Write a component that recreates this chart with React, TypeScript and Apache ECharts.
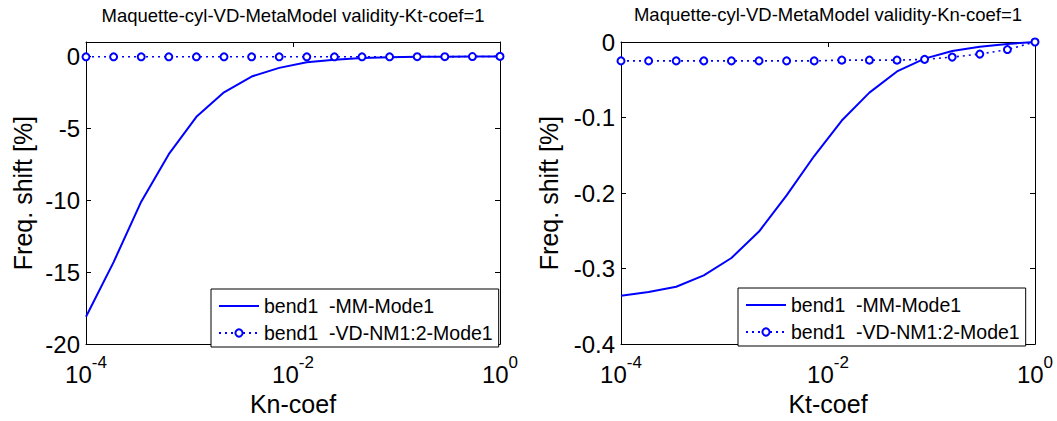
import React, { useEffect, useRef } from "react";
import * as echarts from "echarts";

// Coefficient values (shared by both plots)
const coefValues = [1e-4, 1.848e-4, 3.415e-4, 6.31e-4, 1.166e-3, 2.154e-3, 3.981e-3, 7.356e-3, 1.359e-2, 2.512e-2, 4.642e-2, 8.577e-2, 0.1585, 0.2929, 0.5412, 1];

// Left plot (Kt-coef = 1, varying Kn)
const knMM = [-18.1, -14.3, -10.1, -6.8, -4.2, -2.5, -1.4, -0.8, -0.41, -0.23, -0.11, -0.06, -0.03, -0.02, -0.01, 0];
const knVD = [-0.03, -0.03, -0.03, -0.03, -0.03, -0.03, -0.03, -0.03, -0.03, -0.03, -0.03, -0.03, -0.02, -0.02, -0.01, 0];

// Right plot (Kn-coef = 1, varying Kt)
const ktMM = [-0.336, -0.331, -0.324, -0.309, -0.286, -0.251, -0.203, -0.151, -0.104, -0.067, -0.039, -0.022, -0.012, -0.0063, -0.0025, 0];
const ktVD = [-0.025, -0.025, -0.025, -0.025, -0.025, -0.025, -0.025, -0.025, -0.024, -0.024, -0.024, -0.023, -0.02, -0.016, -0.01, 0];

const xTicks = [1e-4, 1e-2, 1];
const knYTicks = [-20, -15, -10, -5, 0];
const ktYTicks = [-0.4, -0.3, -0.2, -0.1, 0];

const seriesNames = ["bend1  -MM-Mode1", "bend1  -VD-NM1:2-Mode1"];
const titles = ["Maquette-cyl-VD-MetaModel validity-Kt-coef=1", "Maquette-cyl-VD-MetaModel validity-Kn-coef=1"];
const xNames = ["Kn-coef", "Kt-coef"];
const yName = "Freq. shift [%]";

const FONT = "'Liberation Sans', Arial, Helvetica, sans-serif";
const BLUE = "#0000ff";
const BLACK = "#000000";

function powLabel(v: number) {
  const e = v > 0 ? Math.round(Math.log10(v)) : Math.round(v);
  return `{b|10}{s|${e}}`;
}

function buildOption() {
  const grids = [
    { left: 86, top: 42, width: 414, height: 308 },
    { left: 621, top: 42, width: 414, height: 308 },
  ];
  const yRanges = [
    { min: -20, max: 1, ticks: knYTicks, gap: 51 },
    { min: -0.4, max: 0, ticks: ktYTicks, gap: 60 },
  ];
  const xAxis: any[] = [];
  const yAxis: any[] = [];
  [0, 1].forEach((g) => {
    const axisLine = { show: true, onZero: false, lineStyle: { color: BLACK, width: 1 } };
    xAxis.push({
      type: "log",
      logBase: 10,
      gridIndex: g,
      min: 1e-4,
      max: 1,
      position: "bottom",
      axisLine,
      axisTick: { show: true, inside: true, length: 5, customValues: xTicks, lineStyle: { color: BLACK } },
      minorTick: { show: false },
      splitLine: { show: false },
      axisLabel: {
        customValues: xTicks,
        formatter: powLabel,
        margin: 10,
        color: BLACK,
        fontFamily: FONT,
        rich: {
          b: { fontSize: 24, lineHeight: 32, verticalAlign: "bottom", fontFamily: FONT, color: BLACK },
          s: { fontSize: 17, lineHeight: 17, verticalAlign: "top", fontFamily: FONT, color: BLACK },
        },
      },
      name: xNames[g],
      nameLocation: "middle",
      nameGap: 39,
      nameTextStyle: { fontSize: 25, color: BLACK, fontFamily: FONT },
    });
    xAxis.push({
      type: "log",
      logBase: 10,
      gridIndex: g,
      min: 1e-4,
      max: 1,
      position: "top",
      axisLine,
      axisTick: { show: true, inside: true, length: 5, customValues: xTicks, lineStyle: { color: BLACK } },
      minorTick: { show: false },
      splitLine: { show: false },
      axisLabel: { show: false },
    });
    const r = yRanges[g];
    yAxis.push({
      type: "value",
      gridIndex: g,
      min: r.min,
      max: r.max,
      position: "left",
      axisLine,
      axisTick: { show: true, inside: true, length: 5, customValues: r.ticks, lineStyle: { color: BLACK } },
      splitLine: { show: false },
      axisLabel: { customValues: r.ticks, fontSize: 24, color: BLACK, fontFamily: FONT, margin: 6 },
      name: yName,
      nameLocation: "middle",
      nameGap: r.gap,
      nameTextStyle: { fontSize: 25, color: BLACK, fontFamily: FONT },
    });
    yAxis.push({
      type: "value",
      gridIndex: g,
      min: r.min,
      max: r.max,
      position: "right",
      axisLine,
      axisTick: { show: true, inside: true, length: 5, customValues: r.ticks, lineStyle: { color: BLACK } },
      splitLine: { show: false },
      axisLabel: { show: false },
    });
  });

  const dataSets = [
    [knMM, knVD],
    [ktMM, ktVD],
  ];
  const series: any[] = [];
  [0, 1].forEach((g) => {
    series.push({
      type: "line",
      name: seriesNames[0],
      xAxisIndex: g * 2,
      yAxisIndex: g * 2,
      data: coefValues.map((x, i) => [x, dataSets[g][0][i]]),
      symbol: "none",
      lineStyle: { color: BLUE, width: 2 },
      itemStyle: { color: BLUE },
      z: 2,
    });
    series.push({
      type: "line",
      name: seriesNames[1],
      xAxisIndex: g * 2,
      yAxisIndex: g * 2,
      data: coefValues.map((x, i) => [x, dataSets[g][1][i]]),
      symbol: "emptyCircle",
      symbolSize: 7,
      lineStyle: { color: BLUE, width: 1.6, type: [2, 4] },
      itemStyle: { color: BLUE, borderColor: BLUE, borderWidth: 1.6 },
      z: 3,
    });
  });

  const legendBase = {
    orient: "vertical",
    data: [
      { name: seriesNames[0], itemStyle: { opacity: 0 } },
      { name: seriesNames[1] },
    ],
    itemWidth: 40,
    itemHeight: 9,
    itemGap: 7,
    padding: [7, 6, 4, 7],
    borderColor: BLACK,
    borderWidth: 1,
    backgroundColor: "#ffffff",
    selectedMode: false,
    textStyle: { fontSize: 19.5, lineHeight: 20, color: BLACK, fontFamily: FONT },
  };

  return {
    animation: false,
    backgroundColor: "#ffffff",
    title: [
      { text: titles[0], left: 293, top: 6, textAlign: "center", padding: 0, textStyle: { fontSize: 18.5, fontWeight: "normal", color: BLACK, fontFamily: FONT } },
      { text: titles[1], left: 828, top: 5, textAlign: "center", padding: 0, textStyle: { fontSize: 18.5, fontWeight: "normal", color: BLACK, fontFamily: FONT } },
    ],
    legend: [
      { ...legendBase, left: 211, top: 289 },
      { ...legendBase, left: 738, top: 288 },
    ],
    grid: grids,
    xAxis,
    yAxis,
    series,
  };
}

export default function App() {
  const ref = useRef<HTMLDivElement>(null);
  useEffect(() => {
    if (!ref.current) return;
    const chart = echarts.init(ref.current, undefined, { renderer: "svg" });
    chart.setOption(buildOption() as any);
    return () => chart.dispose();
  }, []);
  return (
    <div
      ref={ref}
      style={{ position: "fixed", left: 0, top: 0, width: 1057, height: 421, background: "#fff" }}
    />
  );
}
